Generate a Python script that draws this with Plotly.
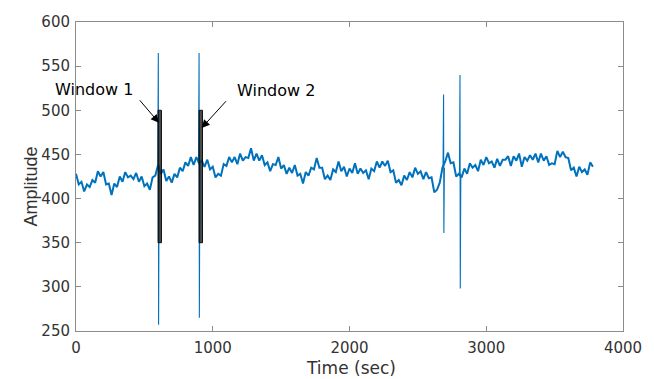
import plotly.graph_objects as go

# ---- data ----
time_sec = list(range(0, 3781, 20))
amplitude = [
    428, 416, 419, 408, 416, 413, 421, 418, 431, 425,
    430, 416, 417, 404, 417, 413, 425, 419, 430, 424,
    426, 422, 429, 419, 425, 414, 417, 410, 424, 426,
    438, 428, 433, 420, 425, 418, 428, 424, 435, 431,
    441, 437, 447, 438, 447, 440, 443, 436, 444, 433,
    436, 424, 428, 426, 439, 437, 447, 441, 447, 439,
    451, 443, 447, 446, 457, 443, 451, 443, 449, 438,
    441, 431, 439, 438, 447, 434, 438, 428, 435, 429,
    438, 426, 428, 417, 430, 426, 435, 433, 446, 435,
    435, 422, 426, 421, 433, 430, 442, 431, 436, 425,
    434, 429, 440, 428, 434, 429, 432, 422, 434, 431,
    442, 435, 442, 437, 443, 430, 432, 418, 421, 415,
    426, 421, 430, 424, 435, 428, 431, 422, 430, 423,
    424, 407, 410, 418, 435, 442, 452, 440, 441, 425,
    428, 424, 434, 428, 440, 435, 438, 431, 444, 438,
    447, 440, 442, 435, 445, 437, 444, 444, 448, 437,
    448, 443, 451, 436, 447, 443, 449, 444, 451, 441,
    451, 443, 448, 438, 440, 439, 454, 447, 453, 447,
    446, 432, 435, 425, 436, 430, 433, 427, 441, 436,
]

spike_time = [602, 900, 2688, 2808]
spike_high = [565, 565, 518, 540]
spike_low = [257, 265, 361, 298]

window_start = [600, 900]
window_end = [625, 925]
window_low = 350
window_high = 500

window_labels = ["Window 1", "Window 2"]
label_x = [130, 1466]
label_y = [524, 522]
arrow_head_x = [606, 919]
arrow_head_y = [486, 480]
arrow_tail_x = [457, 1107]
arrow_tail_y = [513, 512]

x_ticks = [0, 1000, 2000, 3000, 4000]
y_ticks = [250, 300, 350, 400, 450, 500, 550, 600]

fig = go.Figure()
# baseline (noisy band)
fig.add_trace(go.Scatter(x=time_sec, y=amplitude, mode="lines",
                         line=dict(color="#0072BD", width=2.0),
                         hoverinfo="skip", showlegend=False))

# thin spikes, joined to the nearest baseline samples
for st, hi, lo in zip(spike_time, spike_high, spike_low):
    i0 = max(0, min(range(len(time_sec)), key=lambda k: abs(time_sec[k] - st)))
    base = amplitude[i0]
    fig.add_trace(go.Scatter(x=[st - 4, st, st + 2, st + 6], y=[base, hi, lo, base],
                             mode="lines", line=dict(color="#0072BD", width=1.1),
                             hoverinfo="skip", showlegend=False))

for x0, x1 in zip(window_start, window_end):
    fig.add_shape(type="rect", x0=x0, x1=x1, y0=window_low, y1=window_high,
                  xref="x", yref="y", layer="above",
                  fillcolor="rgba(30,30,30,0.8)",
                  line=dict(color="rgba(0,0,0,0.9)", width=1))

for i in range(len(window_labels)):
    fig.add_annotation(x=arrow_head_x[i], y=arrow_head_y[i],
                       ax=arrow_tail_x[i], ay=arrow_tail_y[i],
                       xref="x", yref="y", axref="x", ayref="y",
                       text="", showarrow=True, arrowhead=2, arrowsize=1.6,
                       arrowwidth=1, arrowcolor="#000000", standoff=0)
    fig.add_annotation(x=label_x[i], y=label_y[i], xref="x", yref="y",
                       text=window_labels[i], showarrow=False,
                       font=dict(family="DejaVu Sans", size=16, color="#000000"))

# axis titles placed as in the reference
fig.add_annotation(x=-0.105, y=0.466, xref="paper", yref="paper",
                   text="Amplitude", textangle=-90, showarrow=False,
                   font=dict(family="Liberation Sans", size=18, color="#333333"))
fig.add_annotation(x=0.502, y=-0.12, xref="paper", yref="paper",
                   text="Time (sec)", showarrow=False, yanchor="middle",
                   font=dict(family="DejaVu Sans", size=17, color="#333333"))

axis_common = dict(showline=True, linecolor="#8c8c8c", linewidth=1, mirror="ticks",
                   ticks="inside", ticklen=5, tickcolor="#8c8c8c", showgrid=False,
                   zeroline=False,
                   tickfont=dict(family="DejaVu Sans", size=15, color="#333333"))

fig.update_xaxes(range=[0, 4000], tickvals=x_ticks, ticklabelstandoff=3, **axis_common)
fig.update_yaxes(range=[250, 600], tickvals=y_ticks, ticklabelstandoff=2, **axis_common)

fig.update_layout(width=654, height=379, margin=dict(l=76, r=24, t=22, b=48),
                  paper_bgcolor="white", plot_bgcolor="white")

fig.write_html("out.html")
